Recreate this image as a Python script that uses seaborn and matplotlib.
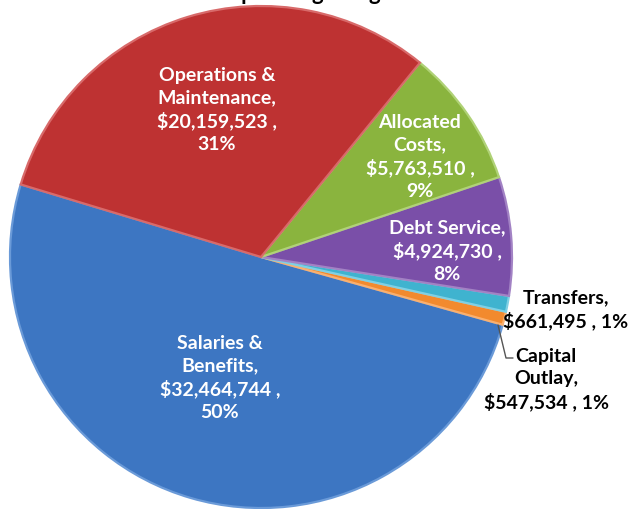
import matplotlib
matplotlib.use("Agg")
import matplotlib.pyplot as plt
import seaborn as sns

categories = ["Salaries &\nBenefits", "Capital\nOutlay", "Transfers", "Debt Service",
              "Allocated\nCosts", "Operations &\nMaintenance"]
values = [32464744, 547534, 661495, 4924730, 5763510, 20159523]
percents = ["50%", "1%", "1%", "8%", "9%", "31%"]

sns.set_theme(style="white")
plt.rcParams['font.family'] = ['Lato', 'DejaVu Sans']

colors = sns.color_palette(["#3d76c2", "#f28a2e", "#3fb3cf", "#7a4fa8", "#8ab43e", "#be3232"])
edge_colors = ["#6a9ad8", "#f9b070", "#7fd0e4", "#a282c4", "#b0d277", "#d86a6a"]

W, H = 631, 510
fig = plt.figure(figsize=(W / 100, H / 100), dpi=100)
ax = fig.add_axes([0, 0, 1, 1])

cx, cy, r = 261, H - 258, 251
wedges, _ = ax.pie(values, colors=colors, startangle=163.2, counterclock=True,
                   center=(cx, cy), radius=r, frame=True,
                   wedgeprops=dict(linewidth=1.6))
for w, ec in zip(wedges, edge_colors):
    w.set_edgecolor(ec)
ax.set_xlim(0, W)
ax.set_ylim(0, H)
ax.set_aspect('equal')
ax.axis('off')

def lab(i):
    return categories[i], f"${values[i]:,}", percents[i]

fs = 14
white = dict(color="white", fontsize=fs, fontweight="bold", ha="center", va="center",
             linespacing=1.35)
black = dict(color="black", fontsize=fs, fontweight="bold", ha="center", va="center",
             linespacing=1.35)

n, v, p = lab(5)
ax.text(217, H - 110, f"{n},\n{v} ,\n{p}", **white)
n, v, p = lab(4)
ax.text(420, H - 157, f"{n},\n{v} ,\n{p}", **white)
n, v, p = lab(3)
ax.text(447, H - 251, f"{n},\n{v} ,\n{p}", **white)
n, v, p = lab(0)
ax.text(220, H - 378, f"{n},\n{v} ,\n{p}", **white)
n, v, p = lab(2)
ax.text(566, H - 310, f"{n},\n{v} , {p}", **black)
n, v, p = lab(1)
ax.text(546, H - 380, f"{n},\n{v} , {p}", **black)

ax.plot([498, 506, 513], [H - 326, H - 359, H - 359], color="#555555", lw=1)

fig.text(242 / W, 1.0, "General Fund Operating Budget", ha="center", va="baseline",
         fontsize=16, fontweight="bold", color="black")

fig.savefig("out.png", dpi=100, facecolor="white")
